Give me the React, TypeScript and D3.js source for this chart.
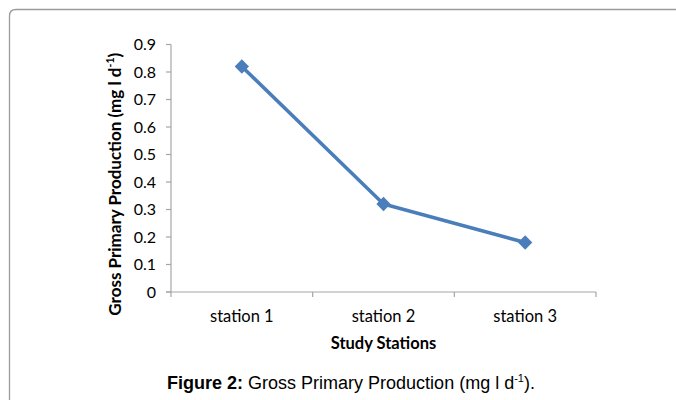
import React from "react";
import * as d3 from "d3";

const stations = ["station 1", "station 2", "station 3"];
const gppValues = [0.82, 0.32, 0.18];
const yTicks = [0, 0.1, 0.2, 0.3, 0.4, 0.5, 0.6, 0.7, 0.8, 0.9];

const W = 676;
const H = 400;
const left = 171;
const right = 596;
const top = 44.5;
const bottom = 292;

export default function App() {
  const x = d3.scaleBand<string>().domain(stations).range([left, right]).padding(0);
  const y = d3.scaleLinear().domain([0, 0.9]).range([bottom, top]);
  const cx = (s: string) => (x(s) as number) + x.bandwidth() / 2;
  const line = d3
    .line<number>()
    .x((_, i) => cx(stations[i]))
    .y((d) => y(d));
  const diamond = d3.symbol().type(d3.symbolDiamond2).size(130)();
  const gridColor = "#a6a6a6";
  const font = "Lato, 'Open Sans', sans-serif";
  const boundaries = [left, ...stations.map((s) => (x(s) as number) + x.bandwidth())];

  return (
    <svg
      width={W}
      height={H}
      style={{ position: "absolute", left: 0, top: 0, background: "#fff" }}
    >
      <path
        d={`M9.5,${H + 5} L9.5,16 Q9.5,9.5 16,9.5 L${W + 5},9.5`}
        fill="none"
        stroke="#9a9a9a"
        strokeWidth={1.3}
      />
      {/* y axis */}
      <line x1={left} x2={left} y1={top} y2={bottom} stroke={gridColor} strokeWidth={1.2} />
      {yTicks.map((t) => (
        <g key={t}>
          <line x1={left - 5} x2={left} y1={y(t)} y2={y(t)} stroke={gridColor} strokeWidth={1.2} />
          <text
            x={156}
            y={y(t)}
            dy="0.35em"
            textAnchor="end"
            fontFamily={font}
            fontSize={16}
            fill="#000"
          >
            {t === 0 ? "0" : d3.format(".1f")(t)}
          </text>
        </g>
      ))}
      {/* x axis */}
      <line x1={left - 5} x2={right} y1={bottom} y2={bottom} stroke={gridColor} strokeWidth={1.2} />
      {boundaries.map((b, i) => (
        <line key={i} x1={b} x2={b} y1={bottom} y2={bottom + 5} stroke={gridColor} strokeWidth={1.2} />
      ))}
      {stations.map((s) => (
        <text
          key={s}
          x={cx(s)}
          y={322}
          textAnchor="middle"
          fontFamily={font}
          fontSize={16.5}
          fill="#000"
        >
          {s}
        </text>
      ))}
      <text
        x={(left + right) / 2}
        y={349}
        textAnchor="middle"
        fontFamily={font}
        fontSize={16.5}
        fontWeight="bold"
        fill="#000"
      >
        Study Stations
      </text>
      <text
        transform={`translate(121,${(top + bottom) / 2 + 16}) rotate(-90)`}
        textAnchor="middle"
        fontFamily={font}
        fontSize={17}
        fontWeight="bold"
        fill="#000"
      >
        Gross Primary Production (mg l d
        <tspan dy={-7} fontSize={10.5}>-1</tspan>
        <tspan dy={7}>)</tspan>
      </text>
      {/* series */}
      <path d={line(gppValues) || ""} fill="none" stroke="#4a7ebb" strokeWidth={3.5} strokeLinejoin="round" />
      {gppValues.map((v, i) => (
        <path
          key={i}
          d={diamond || ""}
          transform={`translate(${cx(stations[i])},${y(v)})`}
          fill="#4a7ebb"
        />
      ))}
      {/* caption */}
      <text
        x={351}
        y={389}
        textAnchor="middle"
        fontFamily="'Liberation Sans', Arial, sans-serif"
        fontSize={18}
        fill="#000"
      >
        <tspan fontWeight="bold">Figure 2:</tspan> Gross Primary Production (mg l d
        <tspan dy={-7} fontSize={11}>-1</tspan>
        <tspan dy={7}>).</tspan>
      </text>
    </svg>
  );
}
